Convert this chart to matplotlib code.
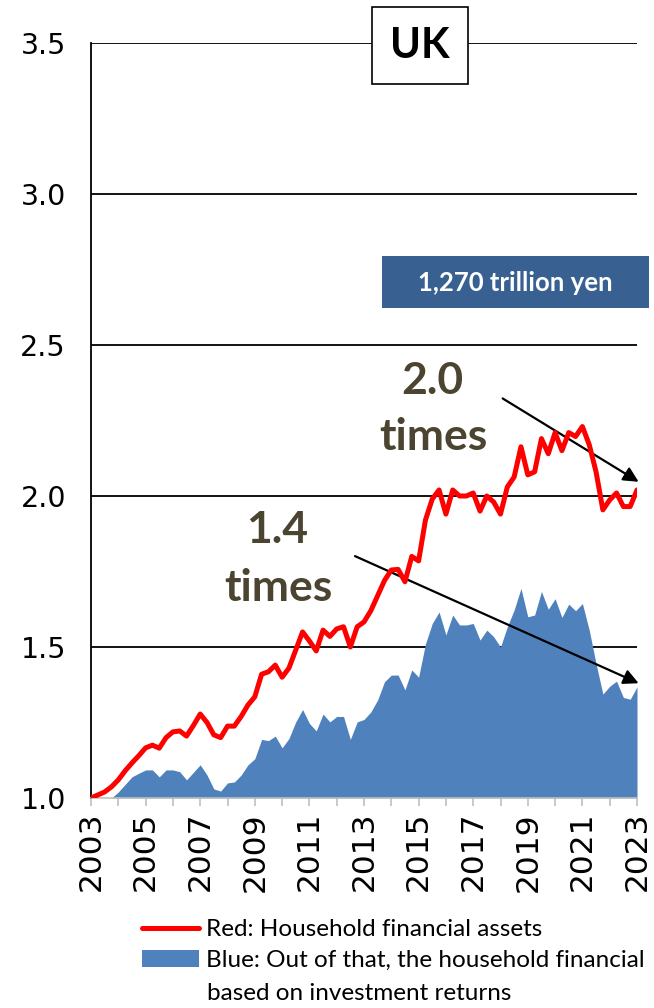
import numpy as np
import matplotlib
matplotlib.use("Agg")
import matplotlib.pyplot as plt
from matplotlib.lines import Line2D
from matplotlib.patches import Patch, Rectangle

# quarterly index, 2003Q1 .. 2023Q1 (2003 = 1.0)
years = np.arange(81) / 4 + 2003

red_assets = [
    1.00, 1.01, 1.02, 1.037,
    1.06, 1.09, 1.116, 1.14,
    1.166, 1.175, 1.165, 1.20,
    1.219, 1.222, 1.205, 1.24,
    1.278, 1.25, 1.209, 1.20,
    1.238, 1.238, 1.27, 1.308,
    1.335, 1.41, 1.418, 1.44,
    1.40, 1.43, 1.49, 1.55,
    1.52, 1.487, 1.556, 1.535,
    1.56, 1.567, 1.50, 1.567,
    1.583, 1.62, 1.67, 1.72,
    1.755, 1.757, 1.716, 1.80,
    1.785, 1.92, 1.99, 2.02,
    1.94, 2.02, 2.00, 2.00,
    2.01, 1.95, 2.00, 1.98,
    1.94, 2.03, 2.063, 2.163,
    2.07, 2.08, 2.19, 2.14,
    2.21, 2.15, 2.21, 2.197,
    2.23, 2.17, 2.08, 1.954,
    1.987, 2.01, 1.965, 1.965,
    2.02,
]

blue_returns = [
    1.0, 1.0, 1.0, 1.0,
    1.02, 1.045, 1.07, 1.082,
    1.093, 1.093, 1.07, 1.093,
    1.093, 1.087, 1.06, 1.085,
    1.11, 1.076, 1.03, 1.023,
    1.05, 1.053, 1.076, 1.11,
    1.13, 1.194, 1.19, 1.205,
    1.166, 1.197, 1.252, 1.293,
    1.247, 1.222, 1.278, 1.252,
    1.27, 1.27, 1.194, 1.252,
    1.26, 1.285, 1.325, 1.385,
    1.407, 1.407, 1.358, 1.424,
    1.40, 1.51, 1.578, 1.616,
    1.54, 1.606, 1.573, 1.573,
    1.578, 1.523, 1.556, 1.534,
    1.50, 1.567, 1.623, 1.694,
    1.60, 1.606, 1.684, 1.625,
    1.66, 1.598, 1.642, 1.62,
    1.644, 1.556, 1.445, 1.344,
    1.37, 1.387, 1.333, 1.327,
    1.368,
]

year_ticks = list(range(2003, 2024))
year_labels = [str(y) if y % 2 == 1 else "" for y in year_ticks]
y_ticks = [1.0, 1.5, 2.0, 2.5, 3.0, 3.5]

RED = "#ff0000"
BLUE = "#4f81bd"
OLIVE = "#4a4430"
W, H = 654, 1008

fig = plt.figure(figsize=(6.54, 10.08), dpi=100)
ax = fig.add_axes([91 / W, 1 - 798 / H, 546 / W, 755 / H])

ax.fill_between(years, 1.0, blue_returns, color=BLUE, lw=0, zorder=2)
ax.plot(years, red_assets, color=RED, lw=3.6, solid_capstyle="round", zorder=4)

for v in y_ticks[1:]:
    ax.axhline(v, color="black", lw=1.3, zorder=1)

ax.set_xlim(2003, 2023)
ax.set_ylim(1.0, 3.5)
ax.set_yticks(y_ticks)
ax.set_yticklabels([f"{v:.1f}" for v in y_ticks], fontsize=20.5)
ax.tick_params(axis="y", length=0, pad=18)
ax.set_xticks(year_ticks)
ax.set_xticklabels(year_labels, rotation=90, fontsize=22.5)
ax.tick_params(axis="x", length=6, color="#c0c0c0", width=1.2, pad=4)

for s in ["top", "right"]:
    ax.spines[s].set_visible(False)
ax.spines["left"].set_color("black")
ax.spines["left"].set_linewidth(1.3)
ax.spines["bottom"].set_color("#c0c0c0")
ax.spines["bottom"].set_linewidth(1.2)

# annotations
bold = dict(family="Lato", fontweight="bold", color=OLIVE, ha="center", va="center", fontsize=32)
ax.text(2009.8, 1.886, "1.4", **bold)
ax.text(2009.85, 1.694, "times", **bold)
ax.text(2015.5, 2.38, "2.0", **bold)
ax.text(2015.55, 2.195, "times", **bold)

arrow = dict(arrowstyle="-|>,head_length=0.9,head_width=0.45", color="black", lw=1.6, shrinkA=0, shrinkB=0)
ax.annotate("", xy=(2023.06, 2.047), xytext=(2018.08, 2.323), arrowprops=arrow, annotation_clip=False)
ax.annotate("", xy=(2023.06, 1.380), xytext=(2012.67, 1.801), arrowprops=arrow, annotation_clip=False)

# title box
fig.patches.append(Rectangle((372 / W, 1 - 84 / H), 96 / W, 77 / H, transform=fig.transFigure,
                             fc="white", ec="black", lw=1.2, zorder=9))
fig.text(420 / W, 1 - 46 / H, "UK", family="Lato", fontweight="bold", fontsize=30,
         ha="center", va="center", zorder=10)

# total box
fig.patches.append(Rectangle((382 / W, 1 - 308 / H), 267 / W, 52 / H, transform=fig.transFigure,
                             fc="#386192", ec="none", zorder=9))
fig.text(515 / W, 1 - 283 / H, "1,270 trillion yen", family="Lato", fontweight="bold",
         fontsize=18.5, color="white", ha="center", va="center", zorder=10)

# legend
handles = [Line2D([], [], color=RED, lw=3.6, solid_capstyle="round"),
           Patch(facecolor=BLUE, edgecolor="none")]
labels = ["Red: Household financial assets", "Blue: Out of that, the household financial"]
fig.legend(handles, labels, loc="upper left", bbox_to_anchor=(142 / W, 1 - 919 / H),
           frameon=False, prop=dict(family="Lato", size=17.5), handlelength=2.35,
           handletextpad=0.3, labelspacing=0.42, borderpad=0, borderaxespad=0)
fig.text(207 / W, 1 - 993 / H, "based on investment returns", family="Lato",
         fontsize=17.5, ha="left", va="center")

fig.savefig("out.png", dpi=100)
